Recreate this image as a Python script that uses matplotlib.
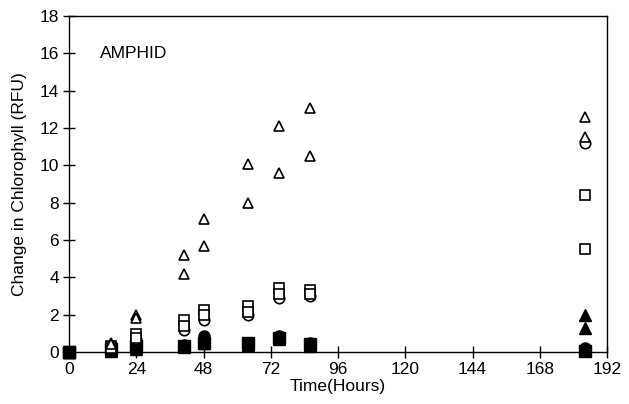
import matplotlib
matplotlib.use("Agg")
import matplotlib.pyplot as plt

# sampling times (hours)
hours = [0, 15, 24, 41, 48, 64, 75, 86, 184]

# open triangles (two replicates)
tri_a = [0, 0.5, 2.0, 5.2, 7.1, 10.1, 12.1, 13.1, 12.6]
tri_b = [0, 0.4, 1.8, 4.2, 5.7, 8.0, 9.6, 10.5, 11.5]
# open squares
sq_a = [0, 0.3, 0.95, 1.7, 2.25, 2.45, 3.4, 3.3, 8.4]
sq_b = [0, 0.2, 0.75, 1.4, 2.0, 2.15, 3.1, 3.1, 5.5]
# open circles
circ = [0, 0.2, 0.7, 1.15, 1.7, 2.0, 2.9, 3.0, 11.2]
# filled symbols
fcirc = [0, 0.3, 0.5, 0.35, 0.85, 0.5, 0.85, 0.45, 0.2]
fsq = [0, 0.15, 0.3, 0.3, 0.5, 0.45, 0.75, 0.4, 0.05]
ftri_a = [0, 0.1, 0.25, 0.3, 0.6, 0.4, 0.8, 0.35, 2.0]
ftri_b = [0, 0.05, 0.15, 0.25, 0.5, 0.35, 0.7, 0.3, 1.3]

xticks = list(range(0, 193, 24))
yticks = list(range(0, 19, 2))

plt.rcParams['font.family'] = ['Liberation Sans', 'DejaVu Sans']

fig = plt.figure(figsize=(6.29, 4.04), dpi=100)
ax = fig.add_axes([0.110, 0.129, 0.855, 0.831])

open_kw = dict(ls='none', mfc='white', mec='black', mew=1.2, ms=7.5,
               clip_on=False, zorder=3)
fill_kw = dict(ls='none', mfc='black', mec='black', ms=8,
               clip_on=False, zorder=3)

ax.plot(hours, fsq, marker='s', **fill_kw)
ax.plot(hours, fcirc, marker='o', **fill_kw)
ax.plot(hours, ftri_a, marker='^', **fill_kw)
ax.plot(hours, ftri_b, marker='^', **fill_kw)
ax.plot(hours, circ, marker='o', **open_kw)
ax.plot(hours, sq_a, marker='s', **open_kw)
ax.plot(hours, sq_b, marker='s', **open_kw)
ax.plot(hours, tri_a, marker='^', **open_kw)
ax.plot(hours, tri_b, marker='^', **open_kw)
# filled square at the origin sits on top
ax.plot(hours[:1], fsq[:1], marker='s', **fill_kw)

ax.set_xlim(0, 192)
ax.set_ylim(0, 18)
ax.set_xticks(xticks)
ax.set_yticks(yticks)
ax.tick_params(direction='inout', length=8, width=1, labelsize=12.5)
ax.set_xlabel("Time(Hours)", fontsize=12.5, labelpad=1)
ax.set_ylabel("Change in Chlorophyll (RFU)", fontsize=12.5, labelpad=9)
for s in ax.spines.values():
    s.set_linewidth(1)

ax.text(11, 16.0, "AMPHID", fontsize=12.5, va='center')

fig.savefig("out.png", dpi=100)
